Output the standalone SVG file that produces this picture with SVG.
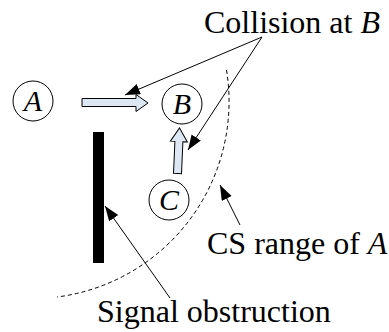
<svg xmlns="http://www.w3.org/2000/svg" width="389" height="332" viewBox="0 0 389 332">
<defs>
<style>
.lbl{font-family:'Liberation Serif','Times New Roman',Times,serif;font-size:32px;fill:#000}
.it{font-style:italic}
.node circle{fill:#fff;stroke:#000;stroke-width:1}
.node text{font-family:'Liberation Serif','Times New Roman',Times,serif;font-size:30px;font-style:italic;text-anchor:middle;fill:#000}
.ln{fill:none;stroke:#000;stroke-width:1}
.blk{fill:#dde7f4;stroke:#000;stroke-width:1;stroke-linejoin:miter}
</style>
<marker id="ah" markerUnits="userSpaceOnUse" markerWidth="16" markerHeight="12" refX="15" refY="5.5" orient="auto">
<path d="M0,0 L15,5.5 L0,11 Z" fill="#000"/>
</marker>
</defs>
<rect width="389" height="332" fill="#fff"/>
<path d="M226.5,70 A197,197 0 0 1 57,297" fill="none" stroke="#000" stroke-width="1" stroke-dasharray="4,3"/>
<rect id="obstruction" x="93" y="132" width="11" height="131" fill="#000"/>
<g id="A" class="node"><circle cx="33" cy="101" r="20"/><text x="33" y="111">A</text></g>
<g id="B" class="node"><circle cx="182" cy="104" r="20"/><text x="182" y="114">B</text></g>
<g id="C" class="node"><circle cx="169" cy="200" r="20"/><text x="169" y="210">C</text></g>
<g id="connectors">
<polygon class="blk" points="82,98.5 136,98.5 136,94.5 148,103 136,111.5 136,106.5 82,106.5"/>
<polygon class="blk" transform="translate(177.5,173.5) rotate(2.5)" points="-4,0 -4,-32 -8.5,-32 0,-45.5 8.5,-32 4,-32 4,0"/>
<line class="ln" x1="262" y1="37" x2="125" y2="95" marker-end="url(#ah)"/>
<line class="ln" x1="262" y1="37" x2="188" y2="150" marker-end="url(#ah)"/>
<line class="ln" x1="240" y1="225" x2="220" y2="185" marker-end="url(#ah)"/>
<line class="ln" x1="170" y1="298" x2="105" y2="206" marker-end="url(#ah)"/>
</g>
<text class="lbl" x="204" y="33">Collision at <tspan class="it">B</tspan></text>
<text class="lbl" x="207" y="254">CS range of <tspan class="it">A</tspan></text>
<text class="lbl" x="97" y="322">Signal obstruction</text>
</svg>
